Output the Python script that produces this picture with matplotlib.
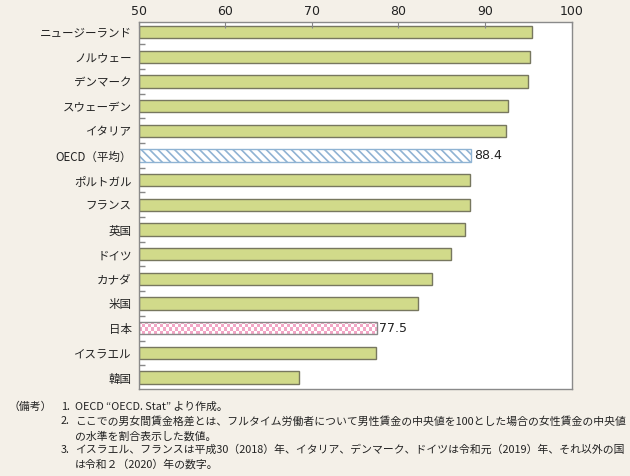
import numpy as np
import matplotlib.pyplot as plt
from matplotlib.ticker import FixedLocator
from matplotlib.colors import ListedColormap

plt.rcParams['font.family'] = ['Noto Sans CJK JP', 'DejaVu Sans']
plt.rcParams['hatch.linewidth'] = 1.2

# 男女間賃金格差（男性=100）
countries = ["ニュージーランド", "ノルウェー", "デンマーク", "スウェーデン", "イタリア",
             "OECD（平均）", "ポルトガル", "フランス", "英国", "ドイツ",
             "カナダ", "米国", "日本", "イスラエル", "韓国"]
values = [95.4, 95.2, 94.9, 92.6, 92.4, 88.4, 88.3, 88.2, 87.7, 86.1,
          83.9, 82.3, 77.5, 77.4, 68.5]
xticks = [50, 60, 70, 80, 90, 100]

notes = [
    ("（備考）", "1.", "OECD “OECD. Stat” より作成。"),
    ("", "2.", "ここでの男女間賃金格差とは、フルタイム労働者について男性賃金の中央値を100とした場合の女性賃金の中央値"),
    ("", "", "の水準を割合表示した数値。"),
    ("", "3.", "イスラエル、フランスは平成30（2018）年、イタリア、デンマーク、ドイツは令和元（2019）年、それ以外の国"),
    ("", "", "は令和２（2020）年の数字。"),
]

bg = "#f4f0e8"
green = "#d1da8a"
edge = "#77775f"

fig = plt.figure(figsize=(6.3, 4.76), dpi=100, facecolor=bg)
ax = fig.add_axes([0.22, 0.182, 0.6875, 0.772])
ax.set_facecolor("white")

y = np.arange(len(countries))
bars = ax.barh(y, [v - 50 for v in values], left=50, height=0.5,
               color=green, edgecolor=edge, linewidth=1.0)

# OECD平均: 斜線
oecd = countries.index("OECD（平均）")
bars[oecd].set_facecolor("white")
bars[oecd].set_edgecolor("#8fb3d3")
bars[oecd].set_hatch("\\\\\\\\")

# 日本: 市松模様
jp = countries.index("日本")
bb = bars[jp].get_bbox()
nx = int((bb.x1 - bb.x0) * 8.66 / 3)
ny = 4
checker = (np.indices((ny, nx)).sum(axis=0) % 2)
img = ax.imshow(checker, cmap=ListedColormap(["#f2a6c6", "white"]),
                extent=(bb.x0, bb.x1, bb.y1, bb.y0), aspect="auto",
                interpolation="nearest", zorder=2)
img.set_clip_path(bars[jp])
bars[jp].set_zorder(3)
bars[jp].set_facecolor("none")
bars[jp].set_edgecolor("#888888")

for i in (oecd, jp):
    ax.text(values[i] + 0.3, y[i], f"{values[i]:.1f}", va="center", ha="left",
            fontsize=9, family="DejaVu Sans", color="#222222")

ax.set_xlim(50, 100)
ax.set_ylim(14.48, -0.41)
ax.xaxis.tick_top()
ax.set_xticks(xticks)
ax.set_xticklabels([str(t) for t in xticks], family="DejaVu Sans", fontsize=9, color="#222222")
ax.tick_params(axis="x", direction="in", length=4, color="#888888", pad=3)
ax.set_yticks(y)
ax.set_yticklabels(countries, fontsize=8.3, color="#222222")
ax.tick_params(axis="y", which="major", length=0, pad=5)
ax.yaxis.set_minor_locator(FixedLocator(y[:-1] + 0.5))
ax.tick_params(axis="y", which="minor", direction="in", length=4, width=1.0, color="#888888")
for s in ax.spines.values():
    s.set_color("#8a8a8a")
    s.set_linewidth(1.0)

# 備考
line_y = [407, 421, 436, 450, 464]
for (head, num, txt), ly in zip(notes, line_y):
    yy = 1 - ly / 476
    if head:
        fig.text(8 / 630, yy, head, fontsize=7.8, va="center", color="#222222")
    if num:
        fig.text(61 / 630, yy, num, fontsize=7.8, va="center", color="#222222")
    fig.text(75 / 630, yy, txt, fontsize=7.8, va="center", color="#222222")

fig.savefig("out.png", dpi=100, facecolor=bg)
